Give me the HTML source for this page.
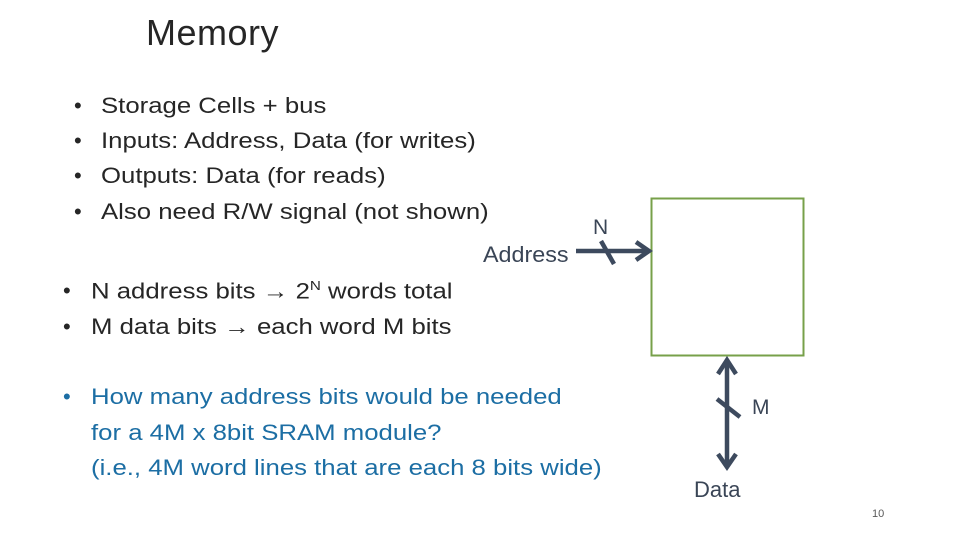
<!DOCTYPE html>
<html><head><meta charset="utf-8"><style>
body{margin:0;width:960px;height:540px;background:#fff;position:relative;overflow:hidden;font-family:"Liberation Sans",sans-serif;}
.t{position:absolute;white-space:nowrap;}
.b{font-size:22px;color:#262626;}
.s{transform:scaleX(1.17);transform-origin:0 0;}
.bl{color:#1c6ea4;}
</style></head><body>
<div class="t" style="left:146px;top:12px;font-size:36px;color:#262626;letter-spacing:0.5px;">Memory</div>

<div class="t b" style="left:74px;top:93px;">•</div><div class="t b s" style="left:101px;top:93px;">Storage Cells + bus</div>
<div class="t b" style="left:74px;top:128px;">•</div><div class="t b s" style="left:101px;top:128px;">Inputs: Address, Data (for writes)</div>
<div class="t b" style="left:74px;top:163px;">•</div><div class="t b s" style="left:101px;top:163px;">Outputs: Data (for reads)</div>
<div class="t b" style="left:74px;top:199px;">•</div><div class="t b s" style="left:101px;top:199px;">Also need R/W signal (not shown)</div>

<div class="t b" style="left:63px;top:278px;">•</div><div class="t b s" style="left:91px;top:278px;">N address bits → 2<sup style="font-size:13px">N</sup> words total</div>
<div class="t b" style="left:63px;top:314px;">•</div><div class="t b s" style="left:91px;top:314px;">M data bits → each word M bits</div>

<div class="t b bl" style="left:63px;top:384px;">•</div>
<div class="t b bl s" style="left:91px;top:384px;">How many address bits would be needed</div>
<div class="t b bl s" style="left:91px;top:420px;">for a 4M x 8bit SRAM module?</div>
<div class="t b bl s" style="left:91px;top:455px;">(i.e., 4M word lines that are each 8 bits wide)</div>

<div class="t" style="left:483px;top:242px;font-size:22px;color:#3a4556;transform:scaleX(1.06);transform-origin:0 0;">Address</div>
<div class="t" style="left:593px;top:216px;font-size:21px;color:#3a4556;">N</div>
<div class="t" style="left:752px;top:396px;font-size:21px;color:#3a4556;">M</div>
<div class="t" style="left:694px;top:477px;font-size:22px;color:#3a4556;">Data</div>
<div class="t" style="left:872px;top:508px;font-size:11px;color:#595959;">10</div>

<svg width="960" height="540" style="position:absolute;left:0;top:0">
<rect x="651.5" y="198.5" width="152" height="157" fill="none" stroke="#77a04a" stroke-width="2"/>
<g stroke="#3d4a5e" stroke-width="4.5" fill="none" stroke-linecap="butt">
<line x1="576" y1="251" x2="649" y2="251"/>
<polyline points="636,242 649,251 636,260"/>
<line x1="601" y1="241" x2="614" y2="264"/>
<line x1="727" y1="360" x2="727" y2="467"/>
<polyline points="718,374 727,360 736,374"/>
<polyline points="718,454 727,467 736,454"/>
<line x1="717" y1="399" x2="740" y2="417"/>
</g>
</svg>
</body></html>
